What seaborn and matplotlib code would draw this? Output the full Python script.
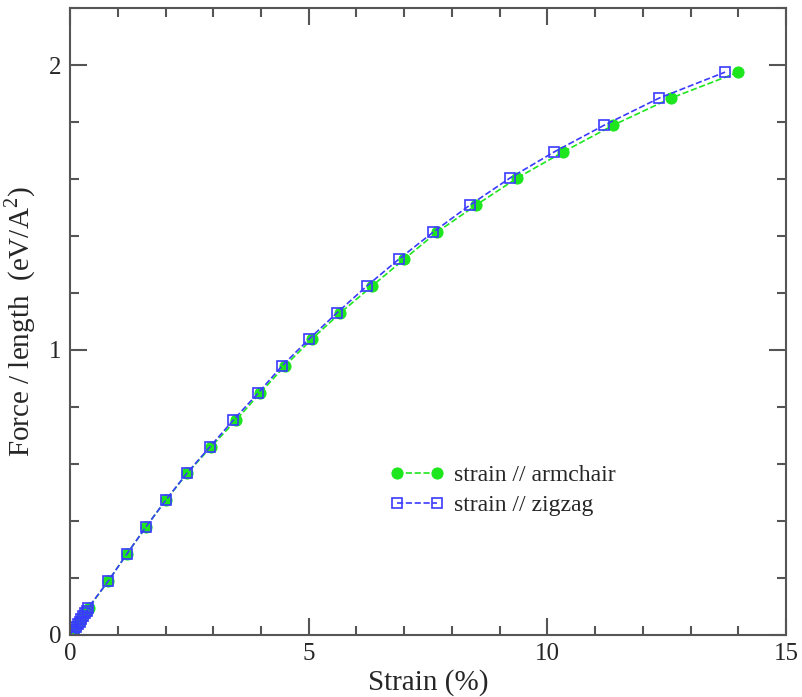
import numpy as np
import pandas as pd
import matplotlib
matplotlib.use("Agg")
import matplotlib.pyplot as plt
import seaborn as sns
from matplotlib.ticker import MultipleLocator

# strain (%) and force/length (eV/A^2)
arm_strain = [0.0, 0.04, 0.08, 0.12, 0.16, 0.20, 0.24, 0.28, 0.32, 0.36, 0.39,
              0.80, 1.19, 1.59, 2.01, 2.46, 2.95, 3.48, 3.98, 4.50, 5.07,
              5.66, 6.33, 7.00, 7.69, 8.51, 9.37, 10.33, 11.38, 12.59, 14.00]
zig_strain = [0.0, 0.04, 0.08, 0.12, 0.16, 0.20, 0.24, 0.28, 0.32, 0.36, 0.38,
              0.80, 1.19, 1.59, 2.01, 2.45, 2.93, 3.42, 3.94, 4.44, 5.01,
              5.59, 6.22, 6.89, 7.61, 8.38, 9.22, 10.14, 11.19, 12.34, 13.72]
force = [0.0, 0.0095, 0.019, 0.028, 0.038, 0.047, 0.057, 0.066, 0.076, 0.085, 0.095,
         0.189, 0.284, 0.379, 0.474, 0.568, 0.660, 0.754, 0.849, 0.944, 1.039,
         1.130, 1.225, 1.319, 1.414, 1.509, 1.604, 1.695, 1.789, 1.884, 1.975]

arm = pd.DataFrame({"strain": arm_strain, "force": force})
zig = pd.DataFrame({"strain": zig_strain, "force": force})

sns.set_style("ticks")
plt.rcParams["font.family"] = ["Liberation Serif", "DejaVu Serif"]
plt.rcParams["mathtext.fontset"] = "custom"
plt.rcParams["mathtext.rm"] = "Liberation Serif"

fig = plt.figure(figsize=(8.02, 6.97), dpi=100)
ax = fig.add_axes([0.0873, 0.089, 0.893, 0.8995])

green = "#1ee61e"
blue = "#3a3aff"

sns.lineplot(data=arm, x="strain", y="force", ax=ax, sort=False, estimator=None,
             color=green, linestyle="--", linewidth=1.2, marker="o", markersize=8,
             markerfacecolor=green, markeredgecolor=green, label="strain // armchair")
sns.lineplot(data=zig, x="strain", y="force", ax=ax, sort=False, estimator=None,
             color=blue, linestyle="--", linewidth=1.2, marker="s", markersize=7,
             markerfacecolor="none", markeredgecolor=blue, markeredgewidth=1.2,
             label="strain // zigzag")

ax.set_xlim(0, 15)
ax.set_ylim(0, 2.2)
ax.xaxis.set_major_locator(MultipleLocator(5))
ax.xaxis.set_minor_locator(MultipleLocator(1))
ax.yaxis.set_major_locator(MultipleLocator(1))
ax.yaxis.set_minor_locator(MultipleLocator(0.2))
ax.tick_params(which="both", direction="in", top=True, right=True,
               color="#555555", width=1.5, labelsize=18, pad=6)
ax.tick_params(which="major", length=12)
ax.tick_params(which="minor", length=6.5)
for s in ax.spines.values():
    s.set_color("#555555")
    s.set_linewidth(1.5)

ax.set_xlabel("Strain (%)", fontsize=21, labelpad=3)
ax.set_ylabel("Force / length  (eV/A$^{2}$)", fontsize=21, labelpad=8)

leg = ax.legend(loc="upper left", bbox_to_anchor=(0.433, 0.287), frameon=False,
                fontsize=17, numpoints=2, handlelength=2.3, handletextpad=0.45,
                labelspacing=0.35, borderaxespad=0)

fig.savefig("out.png", dpi=100)
